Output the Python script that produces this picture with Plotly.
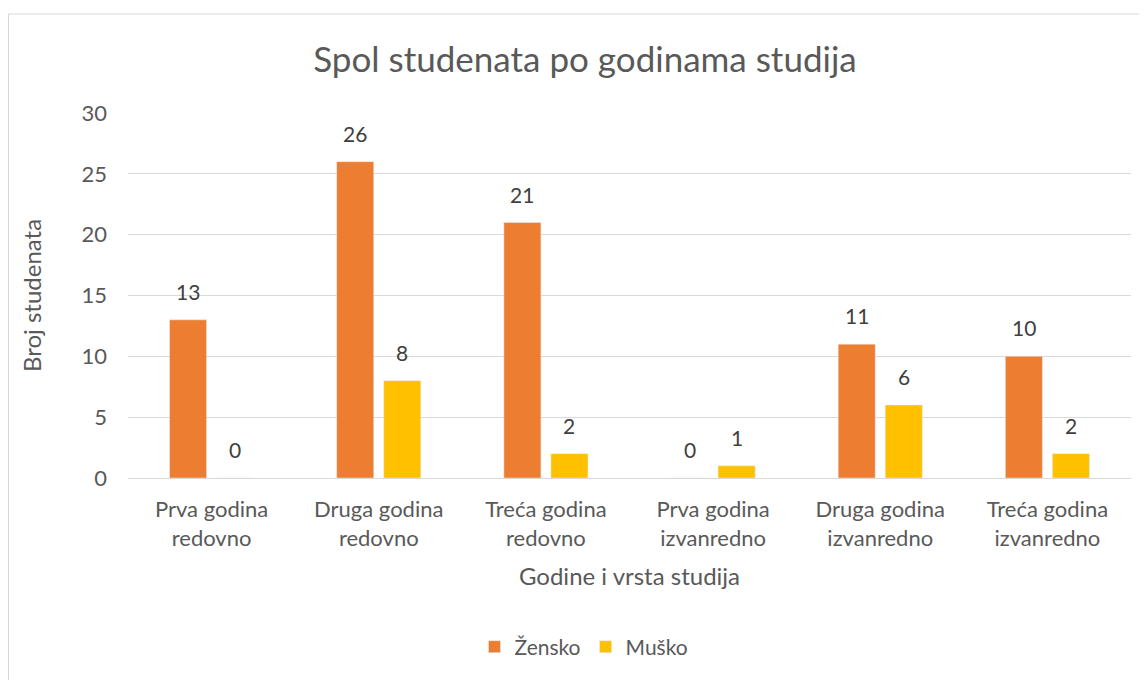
import plotly.graph_objects as go

categories = ["Prva godina<br>redovno", "Druga godina<br>redovno", "Treća godina<br>redovno",
              "Prva godina<br>izvanredno", "Druga godina<br>izvanredno", "Treća godina<br>izvanredno"]
zensko = [13, 26, 21, 0, 11, 10]
musko = [0, 8, 2, 1, 6, 2]

# page body has an 8px margin; work in reference-pixel coordinates and shift by 8
OFF = 8
W, H = 1147 - OFF, 680 - OFF
L, R, T, B = 128 - OFF, 16, 113 - OFF, 202
FONT = "Lato, 'Open Sans', sans-serif"
LABEL_FONT = dict(size=21, color="#404040", family=FONT)

fig = go.Figure()
fig.add_trace(go.Bar(name="Žensko", x=categories, y=zensko, marker_color="#ED7D31"))
fig.add_trace(go.Bar(name="Muško", x=categories, y=musko, marker_color="#FFC000"))

# data labels above each bar (offset to each bar's slot within the group)
SLOT = 23.5
for series, shift in ((zensko, -SLOT), (musko, SLOT)):
    for cat, val in zip(categories, series):
        fig.add_annotation(x=cat, y=val, text=str(val), showarrow=False,
                           xshift=shift, yshift=14, yanchor="bottom",
                           font=LABEL_FONT)

pw = W - L - R
ph = H - T - B
def px(x):
    return (x - OFF - L) / pw
def py(y):
    return (H - B - (y - OFF)) / ph

fig.update_layout(
    width=W, height=H,
    margin=dict(l=L, r=R, t=T, b=B),
    paper_bgcolor="white", plot_bgcolor="white",
    font=dict(family=FONT, color="#595959", size=21),
    barmode="group", bargap=0.437, bargroupgap=0.213,
    title=dict(text="Spol studenata po godinama studija", x=(585 - OFF) / W, xanchor="center",
               y=1 - (60 - OFF) / H, yanchor="middle", font=dict(size=35, color="#595959")),
    xaxis=dict(title=dict(text="Godine i vrsta studija", font=dict(size=24), standoff=18),
               tickfont=dict(size=22), showline=False, ticks="", ticklabelstandoff=16),
    yaxis=dict(title=dict(text="Broj studenata", font=dict(size=24), standoff=33),
               range=[0, 30], dtick=5, gridcolor="#D9D9D9", gridwidth=1,
               zeroline=True, zerolinecolor="#D9D9D9", zerolinewidth=1,
               tickfont=dict(size=22), ticks="", ticklabelstandoff=20),
    legend=dict(orientation="h", x=px(584), xanchor="center", y=py(647), yanchor="middle",
                font=dict(size=21), itemwidth=30, traceorder="normal"),
    showlegend=True,
    shapes=[dict(type="rect", xref="paper", yref="paper",
                 x0=px(OFF + 0.5), x1=px(1152), y0=py(684), y1=py(14),
                 line=dict(color="#D9D9D9", width=1), layer="below")],
)

fig.write_html("out.html")
